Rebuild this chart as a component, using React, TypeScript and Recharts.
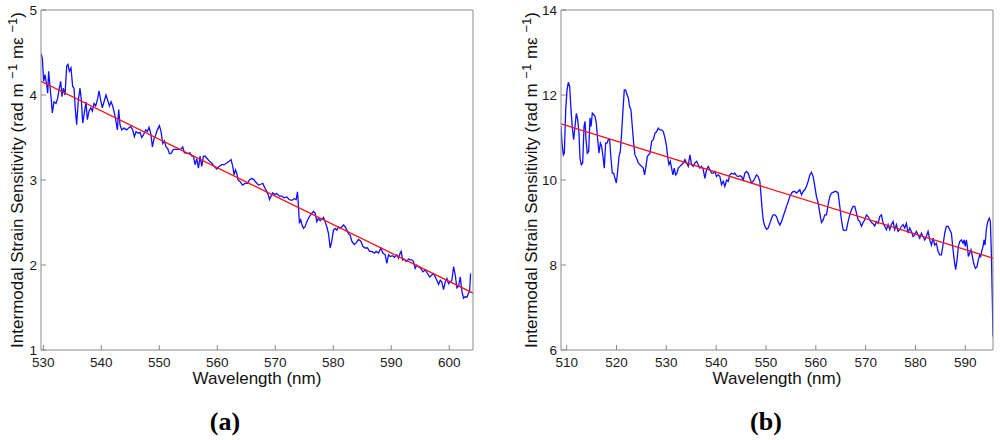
import React from "react";
import { LineChart, Line, XAxis, YAxis } from "recharts";

const traceA: [number, number][] = [
  [529.6, 4.49], [529.83, 4.43], [530.06, 4.16], [530.29, 4.24], [530.58, 4.12], [530.75, 4.02], [530.92, 4.28], [531.15, 4.1],
  [531.38, 3.94], [531.55, 3.79], [531.84, 3.92], [532.19, 3.9], [532.47, 3.96], [532.7, 4.06], [532.99, 4.16], [533.22, 3.98],
  [533.45, 4.08], [533.74, 4.0], [534.03, 4.34], [534.26, 4.36], [534.49, 4.28], [534.77, 4.32], [535.06, 4.1], [535.29, 4.08],
  [535.52, 3.83], [535.75, 3.65], [536.04, 3.94], [536.33, 4.08], [536.56, 3.94], [536.79, 3.67], [537.07, 3.79], [537.36, 3.92],
  [537.59, 3.71], [537.88, 3.81], [538.17, 3.85], [538.46, 3.81], [538.74, 3.9], [539.03, 3.87], [539.38, 3.96], [539.61, 4.05],
  [539.89, 3.94], [540.18, 3.85], [540.47, 3.92], [540.81, 4.0], [541.1, 3.94], [541.39, 3.87], [541.68, 3.92], [541.96, 3.87],
  [542.25, 3.79], [542.48, 3.71], [542.77, 3.59], [543.0, 3.83], [543.23, 3.65], [543.52, 3.59], [543.92, 3.61], [544.38, 3.59],
  [544.67, 3.61], [545.07, 3.63], [545.41, 3.59], [545.7, 3.51], [545.99, 3.57], [546.34, 3.55], [546.68, 3.56], [546.97, 3.5],
  [547.26, 3.53], [547.66, 3.59], [547.95, 3.57], [548.23, 3.62], [548.52, 3.55], [548.81, 3.39], [549.1, 3.49], [549.38, 3.53],
  [549.67, 3.59], [550.02, 3.64], [550.3, 3.57], [550.59, 3.43], [550.88, 3.46], [551.17, 3.39], [551.45, 3.37], [551.74, 3.31],
  [552.03, 3.31], [552.43, 3.36], [552.83, 3.36], [553.3, 3.36], [553.7, 3.36], [554.04, 3.39], [554.33, 3.32], [554.62, 3.32],
  [555.02, 3.31], [555.31, 3.32], [555.6, 3.28], [555.88, 3.28], [556.17, 3.18], [556.46, 3.25], [556.75, 3.14], [557.03, 3.28],
  [557.32, 3.16], [557.61, 3.28], [557.9, 3.28], [558.3, 3.25], [558.64, 3.22], [559.05, 3.2], [559.45, 3.16], [559.91, 3.13],
  [560.31, 3.16], [560.77, 3.18], [561.17, 3.18], [561.63, 3.2], [562.04, 3.22], [562.38, 3.24], [562.67, 3.16], [562.9, 3.06],
  [563.13, 3.12], [563.36, 3.08], [563.59, 3.0], [563.94, 2.98], [564.34, 2.94], [564.8, 2.96], [565.2, 2.96], [565.55, 3.0],
  [565.95, 3.02], [566.35, 3.0], [566.7, 2.97], [567.1, 2.94], [567.5, 2.95], [567.85, 2.96], [568.25, 2.9], [568.54, 2.86],
  [568.82, 2.82], [569.0, 2.77], [569.28, 2.81], [569.57, 2.85], [569.86, 2.83], [570.26, 2.84], [570.72, 2.81], [571.13, 2.81],
  [571.53, 2.79], [571.99, 2.8], [572.39, 2.77], [572.85, 2.76], [573.25, 2.78], [573.6, 2.77], [573.83, 2.86], [574.0, 2.69],
  [574.17, 2.49], [574.4, 2.53], [574.63, 2.47], [574.86, 2.43], [575.15, 2.45], [575.44, 2.51], [575.73, 2.55], [576.01, 2.58],
  [576.3, 2.61], [576.59, 2.63], [576.88, 2.61], [577.16, 2.51], [577.45, 2.55], [577.74, 2.52], [578.03, 2.54], [578.32, 2.56],
  [578.6, 2.51], [578.89, 2.45], [579.18, 2.37], [579.47, 2.2], [579.75, 2.28], [580.04, 2.41], [580.33, 2.43], [580.62, 2.41],
  [580.9, 2.45], [581.19, 2.43], [581.48, 2.45], [581.77, 2.47], [582.05, 2.45], [582.34, 2.41], [582.63, 2.37], [582.92, 2.35],
  [583.2, 2.28], [583.61, 2.24], [583.95, 2.26], [584.35, 2.3], [584.76, 2.28], [585.1, 2.22], [585.5, 2.2], [585.91, 2.2],
  [586.25, 2.16], [586.66, 2.16], [587.06, 2.14], [587.4, 2.16], [587.81, 2.14], [588.21, 2.2], [588.55, 2.14], [588.96, 2.12],
  [589.24, 2.02], [589.53, 2.12], [589.82, 2.1], [590.22, 2.11], [590.57, 2.09], [590.97, 2.12], [591.26, 2.08], [591.54, 2.14],
  [591.72, 2.16], [591.95, 2.06], [592.23, 2.07], [592.58, 2.04], [592.98, 2.07], [593.27, 2.06], [593.56, 2.06], [593.84, 2.04],
  [594.13, 1.96], [594.42, 2.0], [594.71, 1.98], [595.11, 1.96], [595.46, 1.92], [595.86, 1.94], [596.26, 1.9], [596.61, 1.86],
  [596.95, 1.88], [597.3, 1.9], [597.58, 1.86], [597.87, 1.82], [598.16, 1.77], [598.45, 1.82], [598.73, 1.8], [599.02, 1.71],
  [599.31, 1.8], [599.6, 1.84], [599.88, 1.78], [600.17, 1.8], [600.46, 1.82], [600.75, 1.98], [601.04, 1.88], [601.32, 1.73],
  [601.61, 1.75], [601.9, 1.86], [602.19, 1.69], [602.47, 1.61], [602.76, 1.63], [603.05, 1.62], [603.34, 1.67], [603.51, 1.69],
  [603.68, 1.9],
];
const fitA: [number, number][] = [[529.6, 4.16], [604.1, 1.67]];
const xDomainA = [529.6, 604.1];
const yDomainA = [1, 5];
const xTicksA = [530, 540, 550, 560, 570, 580, 590, 600];
const yTicksA = [1, 2, 3, 4, 5];

// (b)
const traceB: [number, number][] = [
  [508.86, 11.26], [509.06, 10.87], [509.33, 10.59], [509.53, 10.63], [509.8, 11.65], [510.07, 12.12], [510.33, 12.3], [510.6, 12.2],
  [510.87, 11.65], [511.14, 11.22], [511.4, 10.95], [511.67, 11.26], [511.94, 11.57], [512.21, 11.42], [512.47, 11.1], [512.67, 10.51],
  [512.94, 10.36], [513.21, 10.4], [513.48, 11.26], [513.68, 11.38], [513.88, 10.95], [514.14, 10.63], [514.41, 10.67], [514.68, 11.46],
  [514.88, 11.26], [515.15, 11.57], [515.41, 11.54], [515.68, 11.5], [515.95, 11.34], [516.22, 10.95], [516.48, 10.63], [516.75, 10.87],
  [517.02, 10.79], [517.29, 10.55], [517.55, 10.28], [517.82, 10.87], [518.09, 10.87], [518.36, 10.95], [518.62, 10.95], [518.89, 10.51],
  [519.16, 10.16], [519.43, 10.16], [519.69, 10.04], [519.96, 9.93], [520.23, 10.2], [520.49, 10.55], [520.76, 10.67], [521.03, 11.1],
  [521.3, 11.65], [521.56, 12.12], [521.83, 12.12], [522.1, 12.01], [522.37, 11.93], [522.63, 11.73], [522.9, 11.65], [523.17, 11.26],
  [523.44, 10.87], [523.7, 10.59], [524.04, 10.51], [524.37, 10.4], [524.71, 10.36], [525.04, 10.32], [525.37, 10.28], [525.64, 10.12],
  [525.91, 10.32], [526.18, 10.55], [526.44, 10.59], [526.71, 10.63], [527.05, 10.91], [527.38, 10.95], [527.71, 11.1], [528.05, 11.14],
  [528.38, 11.22], [528.72, 11.18], [529.05, 11.18], [529.39, 11.14], [529.72, 10.99], [530.05, 10.79], [530.25, 10.55], [530.52, 10.36],
  [530.79, 10.44], [531.06, 10.28], [531.32, 10.12], [531.59, 10.28], [531.86, 10.12], [532.13, 10.16], [532.39, 10.28], [532.73, 10.32],
  [533.06, 10.36], [533.4, 10.4], [533.73, 10.48], [534.06, 10.4], [534.4, 10.32], [534.73, 10.59], [535.07, 10.36], [535.4, 10.32],
  [535.74, 10.4], [536.07, 10.44], [536.4, 10.36], [536.74, 10.28], [537.07, 10.32], [537.41, 10.24], [537.74, 10.04], [538.07, 10.24],
  [538.41, 10.32], [538.74, 10.24], [539.08, 10.16], [539.41, 10.16], [539.75, 10.2], [540.08, 10.08], [540.41, 10.12], [540.75, 10.08],
  [541.08, 9.89], [541.42, 9.97], [541.75, 9.85], [542.09, 10.0], [542.42, 9.97], [542.75, 10.12], [543.09, 10.16], [543.42, 10.14],
  [543.76, 10.16], [544.09, 10.1], [544.43, 10.08], [544.76, 10.1], [545.09, 10.08], [545.43, 10.0], [545.76, 10.16], [546.1, 10.2],
  [546.43, 10.16], [546.76, 10.04], [547.1, 9.93], [547.43, 9.97], [547.77, 10.04], [548.1, 10.12], [548.44, 10.08], [548.77, 9.97],
  [548.97, 9.69], [549.17, 9.38], [549.44, 9.06], [549.77, 8.91], [550.11, 8.84], [550.44, 8.87], [550.78, 8.98], [551.11, 9.1],
  [551.44, 9.18], [551.78, 9.18], [552.11, 9.14], [552.45, 9.02], [552.78, 8.94], [553.12, 9.02], [553.45, 9.14], [553.78, 9.26],
  [554.12, 9.38], [554.45, 9.49], [554.79, 9.61], [555.12, 9.69], [555.45, 9.73], [555.79, 9.73], [556.12, 9.69], [556.46, 9.73],
  [556.79, 9.77], [557.13, 9.65], [557.46, 9.73], [557.79, 9.77], [558.13, 9.85], [558.46, 9.97], [558.8, 10.12], [559.13, 10.18],
  [559.47, 10.08], [559.8, 9.85], [560.13, 9.61], [560.47, 9.46], [560.8, 9.22], [561.14, 9.0], [561.47, 9.06], [561.8, 9.18],
  [562.14, 9.18], [562.47, 9.42], [562.81, 9.61], [563.14, 9.69], [563.48, 9.71], [563.81, 9.73], [564.14, 9.73], [564.48, 9.69],
  [564.81, 9.38], [565.15, 9.06], [565.48, 8.83], [565.82, 8.81], [566.15, 8.83], [566.48, 9.02], [566.82, 9.18], [567.15, 9.3],
  [567.49, 9.38], [567.82, 9.38], [568.16, 9.22], [568.49, 9.06], [568.82, 9.02], [569.16, 8.91], [569.49, 9.0], [569.83, 9.06],
  [570.16, 9.18], [570.5, 9.14], [570.83, 9.06], [571.16, 9.0], [571.5, 8.97], [571.83, 8.92], [572.17, 9.02], [572.5, 8.98],
  [572.83, 9.14], [573.17, 9.18], [573.5, 8.98], [573.84, 8.91], [574.17, 8.83], [574.51, 8.95], [574.84, 8.83], [575.17, 8.95],
  [575.51, 9.02], [575.84, 8.83], [576.18, 8.95], [576.51, 8.79], [576.84, 8.83], [577.18, 8.91], [577.51, 8.95], [577.85, 8.87],
  [578.18, 8.98], [578.52, 8.75], [578.85, 8.87], [579.18, 8.79], [579.52, 8.67], [579.85, 8.71], [580.19, 8.79], [580.52, 8.71],
  [580.86, 8.63], [581.19, 8.75], [581.52, 8.67], [581.86, 8.59], [582.19, 8.67], [582.53, 8.79], [582.86, 8.59], [583.2, 8.47],
  [583.53, 8.63], [583.86, 8.47], [584.2, 8.51], [584.53, 8.32], [584.87, 8.24], [585.2, 8.24], [585.53, 8.47], [585.87, 8.75],
  [586.2, 8.91], [586.54, 8.91], [586.87, 8.83], [587.21, 8.75], [587.54, 8.36], [587.87, 8.04], [588.07, 7.89], [588.34, 8.12],
  [588.61, 8.44], [588.88, 8.55], [589.21, 8.59], [589.55, 8.51], [589.75, 8.59], [590.01, 8.44], [590.21, 8.59], [590.41, 8.44],
  [590.61, 8.2], [590.88, 8.28], [591.15, 8.36], [591.42, 8.2], [591.68, 8.04], [592.02, 7.92], [592.35, 7.96], [592.62, 8.12],
  [592.89, 8.24], [593.09, 8.2], [593.29, 8.32], [593.56, 8.44], [593.76, 8.59], [593.96, 8.47], [594.22, 8.83], [594.43, 8.98],
  [594.63, 9.06], [594.83, 9.1], [595.03, 9.02], [595.23, 8.28], [595.43, 7.18], [595.56, 6.32],
];
const fitB: [number, number][] = [[508.86, 11.32], [595.56, 8.16]];
const xDomainB = [508.86, 595.56];
const yDomainB = [6, 14];
const xTicksB = [510, 520, 530, 540, 550, 560, 570, 580, 590];
const yTicksB = [6, 8, 10, 12, 14];

const SANS = '"Liberation Sans", Arial, Helvetica, sans-serif';
const FRAME = "#8a8a8a";
const tickFont = { fontSize: 13.5, fill: "#1a1a1a", fontFamily: SANS };

const toRows = (pts: [number, number][]) => pts.map(([x, y]) => ({ x, y }));

function Panel({
  trace,
  fit,
  xDomain,
  yDomain,
  xTicks,
  yTicks,
  left,
  marginLeft,
  marginRight,
}: {
  trace: [number, number][];
  fit: [number, number][];
  xDomain: number[];
  yDomain: number[];
  xTicks: number[];
  yTicks: number[];
  left: number;
  marginLeft: number;
  marginRight: number;
}) {
  // every axis is 1px thick, so the plot box is margin + 1 on each side
  return (
    <div style={{ position: "absolute", left, top: 0 }}>
      <LineChart
        width={500}
        height={440}
        margin={{ top: 9, right: marginRight - 1, bottom: 89, left: marginLeft - 1 }}
      >
        <XAxis
          xAxisId="b"
          dataKey="x"
          type="number"
          domain={xDomain}
          ticks={xTicks}
          interval={0}
          allowDataOverflow
          height={1}
          tickSize={-5}
          tickMargin={12}
          stroke={FRAME}
          tick={tickFont}
        />
        <XAxis
          xAxisId="t"
          orientation="top"
          dataKey="x"
          type="number"
          domain={xDomain}
          ticks={xTicks}
          interval={0}
          allowDataOverflow
          height={1}
          tickSize={-5}
          stroke={FRAME}
          tick={false}
        />
        <YAxis
          yAxisId="l"
          type="number"
          domain={yDomain}
          ticks={yTicks}
          interval={0}
          allowDataOverflow
          width={1}
          tickSize={-5}
          tickMargin={9}
          stroke={FRAME}
          tick={tickFont}
        />
        <YAxis
          yAxisId="r"
          orientation="right"
          type="number"
          domain={yDomain}
          ticks={yTicks}
          interval={0}
          allowDataOverflow
          width={1}
          tickSize={-5}
          stroke={FRAME}
          tick={false}
        />
        <Line
          xAxisId="b"
          yAxisId="l"
          data={toRows(trace)}
          dataKey="y"
          type="linear"
          stroke="#1010ff"
          strokeWidth={1.3}
          dot={false}
          isAnimationActive={false}
        />
        <Line
          xAxisId="b"
          yAxisId="l"
          data={toRows(fit)}
          dataKey="y"
          type="linear"
          stroke="#ff1010"
          strokeWidth={1.3}
          dot={false}
          isAnimationActive={false}
        />
      </LineChart>
    </div>
  );
}

const supStyle = { fontSize: 13 };

function YTitle({ cx }: { cx: number }) {
  return (
    <div
      style={{
        position: "absolute",
        left: cx,
        top: 180,
        transform: "translate(-50%, -50%) rotate(-90deg)",
        whiteSpace: "nowrap",
        fontFamily: SANS,
        fontSize: 17,
        lineHeight: 1,
        color: "#111",
      }}
    >
      Intermodal Strain Sensitivity (rad m <sup style={supStyle}>−1</sup> mε <sup style={supStyle}>−1</sup>)
    </div>
  );
}

function XTitle({ cx }: { cx: number }) {
  return (
    <div
      style={{
        position: "absolute",
        left: cx,
        top: 378,
        transform: "translate(-50%, -50%)",
        whiteSpace: "nowrap",
        fontFamily: SANS,
        fontSize: 17,
        lineHeight: 1,
        color: "#111",
      }}
    >
      Wavelength (nm)
    </div>
  );
}

function Tag({ cx, text }: { cx: number; text: string }) {
  return (
    <div
      style={{
        position: "absolute",
        left: cx,
        top: 422,
        transform: "translate(-50%, -50%)",
        fontFamily: '"Liberation Serif", "Times New Roman", serif',
        fontWeight: "bold",
        fontSize: 26,
        lineHeight: 1,
        color: "#000",
      }}
    >
      {text}
    </div>
  );
}

export default function App() {
  return (
    <div
      style={{
        position: "absolute",
        left: 0,
        top: 0,
        width: 1000,
        height: 440,
        background: "#fff",
        overflow: "hidden",
      }}
    >
      <Panel
        trace={traceA}
        fit={fitA}
        xDomain={xDomainA}
        yDomain={yDomainA}
        xTicks={xTicksA}
        yTicks={yTicksA}
        left={0}
        marginLeft={41}
        marginRight={27}
      />
      <Panel
        trace={traceB}
        fit={fitB}
        xDomain={xDomainB}
        yDomain={yDomainB}
        xTicks={xTicksB}
        yTicks={yTicksB}
        left={500}
        marginLeft={61}
        marginRight={7}
      />
      <YTitle cx={16} />
      <YTitle cx={530} />
      <XTitle cx={257} />
      <XTitle cx={777} />
      <Tag cx={225} text="(a)" />
      <Tag cx={766} text="(b)" />
    </div>
  );
}
